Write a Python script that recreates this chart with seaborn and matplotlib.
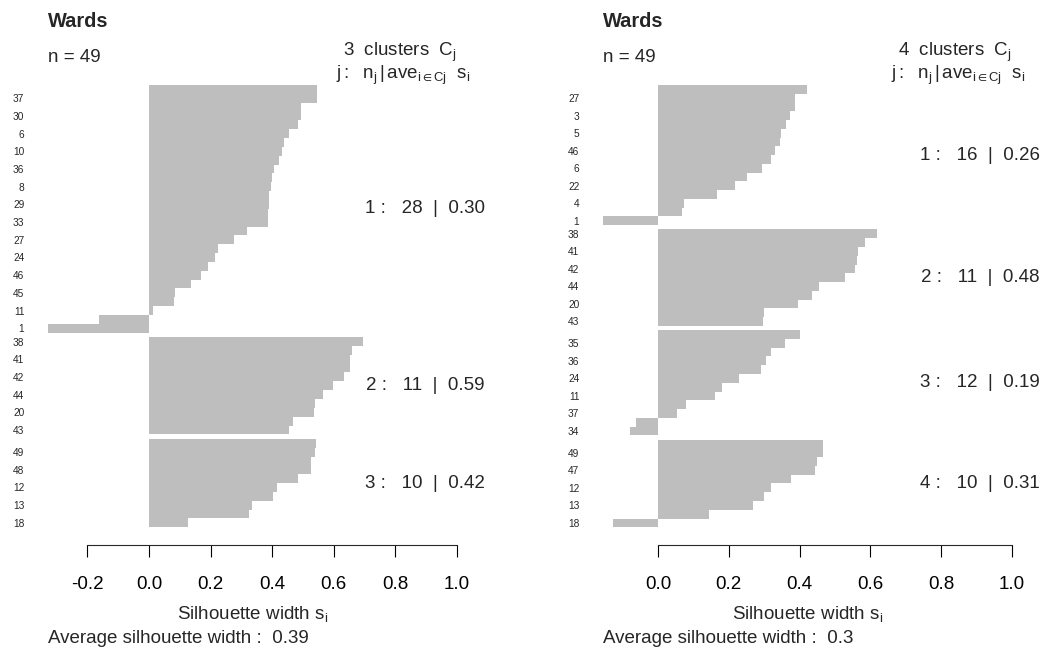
import numpy as np
import pandas as pd
import matplotlib
matplotlib.use("Agg")
import matplotlib.pyplot as plt
import seaborn as sns

method = "Wards"

# silhouette widths, clusters in order, bars top to bottom
left_sizes = [28, 11, 10]
left_widths = [0.545, 0.545, 0.495, 0.495, 0.483, 0.454, 0.438, 0.431, 0.421, 0.405,
               0.400, 0.395, 0.391, 0.388, 0.385, 0.385, 0.317, 0.276, 0.224, 0.214,
               0.192, 0.168, 0.136, 0.084, 0.080, 0.012, -0.162, -0.328,
               0.695, 0.660, 0.651, 0.651, 0.632, 0.598, 0.566, 0.540, 0.537, 0.467, 0.454,
               0.542, 0.539, 0.526, 0.526, 0.484, 0.415, 0.402, 0.334, 0.324, 0.126]
left_labels = ["", "37", "", "30", "", "6", "", "10", "", "36", "", "8", "", "29",
               "", "33", "", "27", "", "24", "", "46", "", "45", "", "11", "", "1",
               "38", "", "41", "", "42", "", "44", "", "20", "", "43",
               "", "49", "", "48", "", "12", "", "13", "", "18"]

right_sizes = [16, 11, 12, 10]
right_widths = [0.420, 0.388, 0.388, 0.374, 0.361, 0.347, 0.345, 0.331, 0.319, 0.294,
                0.251, 0.218, 0.167, 0.073, 0.068, -0.155,
                0.620, 0.585, 0.565, 0.562, 0.556, 0.528, 0.455, 0.435, 0.395, 0.299, 0.297,
                0.400, 0.360, 0.320, 0.305, 0.290, 0.230, 0.180, 0.161, 0.079, 0.054,
                -0.062, -0.079,
                0.465, 0.465, 0.450, 0.445, 0.375, 0.320, 0.300, 0.270, 0.143, -0.127]
right_labels = ["", "27", "", "3", "", "5", "", "46", "", "6", "", "22", "", "4", "", "1",
                "38", "", "41", "", "42", "", "44", "", "20", "", "43",
                "", "35", "", "36", "", "24", "", "11", "", "37", "", "34",
                "", "49", "", "47", "", "12", "", "13", "", "18"]

sns.set_style("white")
plt.rcParams["font.family"] = ["Liberation Sans", "DejaVu Sans"]
plt.rcParams["mathtext.fontset"] = "custom"
plt.rcParams["mathtext.rm"] = "Liberation Sans"
plt.rcParams["mathtext.it"] = "Liberation Sans"
plt.rcParams["mathtext.sf"] = "Liberation Sans"

FS = 13.5


def sil_frame(sizes, widths, labels):
    cluster = np.repeat(np.arange(1, len(sizes) + 1), sizes)
    gap = np.r_[0, np.diff(cluster)] * 0.5  # half a bar between clusters
    pos = np.arange(len(widths)) + 0.5 + np.cumsum(gap)
    return pd.DataFrame({"width": widths, "label": labels,
                         "cluster": cluster, "pos": pos})


def draw(ax, sizes, widths, labels):
    df = sil_frame(sizes, widths, labels)
    sns.barplot(data=df, x="width", y="pos", orient="h", native_scale=True,
                width=1, color="#bebebe", saturation=1, linewidth=0,
                errorbar=None, ax=ax)

    total = df["pos"].max() + 0.5
    pad = 0.04 * total
    ax.set_ylim(total + pad, -pad)
    xmin = min(0, df["width"].min())
    ax.set_xlim(xmin, 1)

    ticks = np.round(np.arange(np.ceil(xmin / 0.2) * 0.2, 1.001, 0.2), 1) + 0.0
    ax.set_xticks(ticks, [f"{t:.1f}" for t in ticks])
    for s in ["left", "top", "right"]:
        ax.spines[s].set_visible(False)
    ax.spines["bottom"].set_bounds(ticks[0], ticks[-1])
    ax.spines["bottom"].set_linewidth(0.8)
    ax.tick_params(axis="x", bottom=True, length=8.4, width=0.8, pad=14,
                   labelsize=FS, direction="out", colors="black")

    shown = df[df["label"] != ""]
    ax.set_yticks(shown["pos"], shown["label"])
    ax.tick_params(axis="y", left=False, length=0, pad=17, labelsize=7.3)

    ax.set_xlabel(r"Silhouette width $\mathregular{s_i}$", fontsize=FS, labelpad=8)
    ax.set_ylabel("")

    k = len(sizes)
    n = len(df)
    ax.text(0, 1.084, method, transform=ax.transAxes, fontweight="bold",
            fontsize=14.4, ha="left", va="baseline")
    ax.text(0, 1.011, f"n = {n}", transform=ax.transAxes, fontsize=FS,
            ha="left", va="baseline")
    ax.text(1, 1.024, rf"{k}  clusters  $\mathregular{{C_j}}$",
            transform=ax.transAxes, fontsize=FS, ha="right", va="baseline")
    ax.text(1.032, 0.976,
            r"$\mathregular{j :\ \ n_j\,|\,ave_{i\in Cj}\ \ s_i}$",
            transform=ax.transAxes, fontsize=FS, ha="right", va="baseline")

    stats = df.groupby("cluster").agg(size=("width", "size"),
                                      avg=("width", "mean"),
                                      y=("pos", "mean"))
    for j, row in stats.iterrows():
        ax.annotate(f"{j} :   {int(row['size'])}  |  {row['avg']:.2f}",
                    xy=(1, row["y"]), xycoords="data", xytext=(20, 0),
                    textcoords="offset points", ha="right", va="center",
                    fontsize=FS, annotation_clip=False)

    ax.text(0, -0.2045, f"Average silhouette width :  {df['width'].mean():.2g}",
            transform=ax.transAxes, fontsize=FS, ha="left", va="baseline")


fig = plt.figure(figsize=(10.44, 6.65), dpi=100)
ax1 = fig.add_axes([48 / 1044, 0.1805, 409 / 1044, 0.7183])
ax2 = fig.add_axes([603 / 1044, 0.1805, 409 / 1044, 0.7183])

draw(ax1, left_sizes, left_widths, left_labels)
draw(ax2, right_sizes, right_widths, right_labels)

fig.savefig("out.png", dpi=100, facecolor="white")
